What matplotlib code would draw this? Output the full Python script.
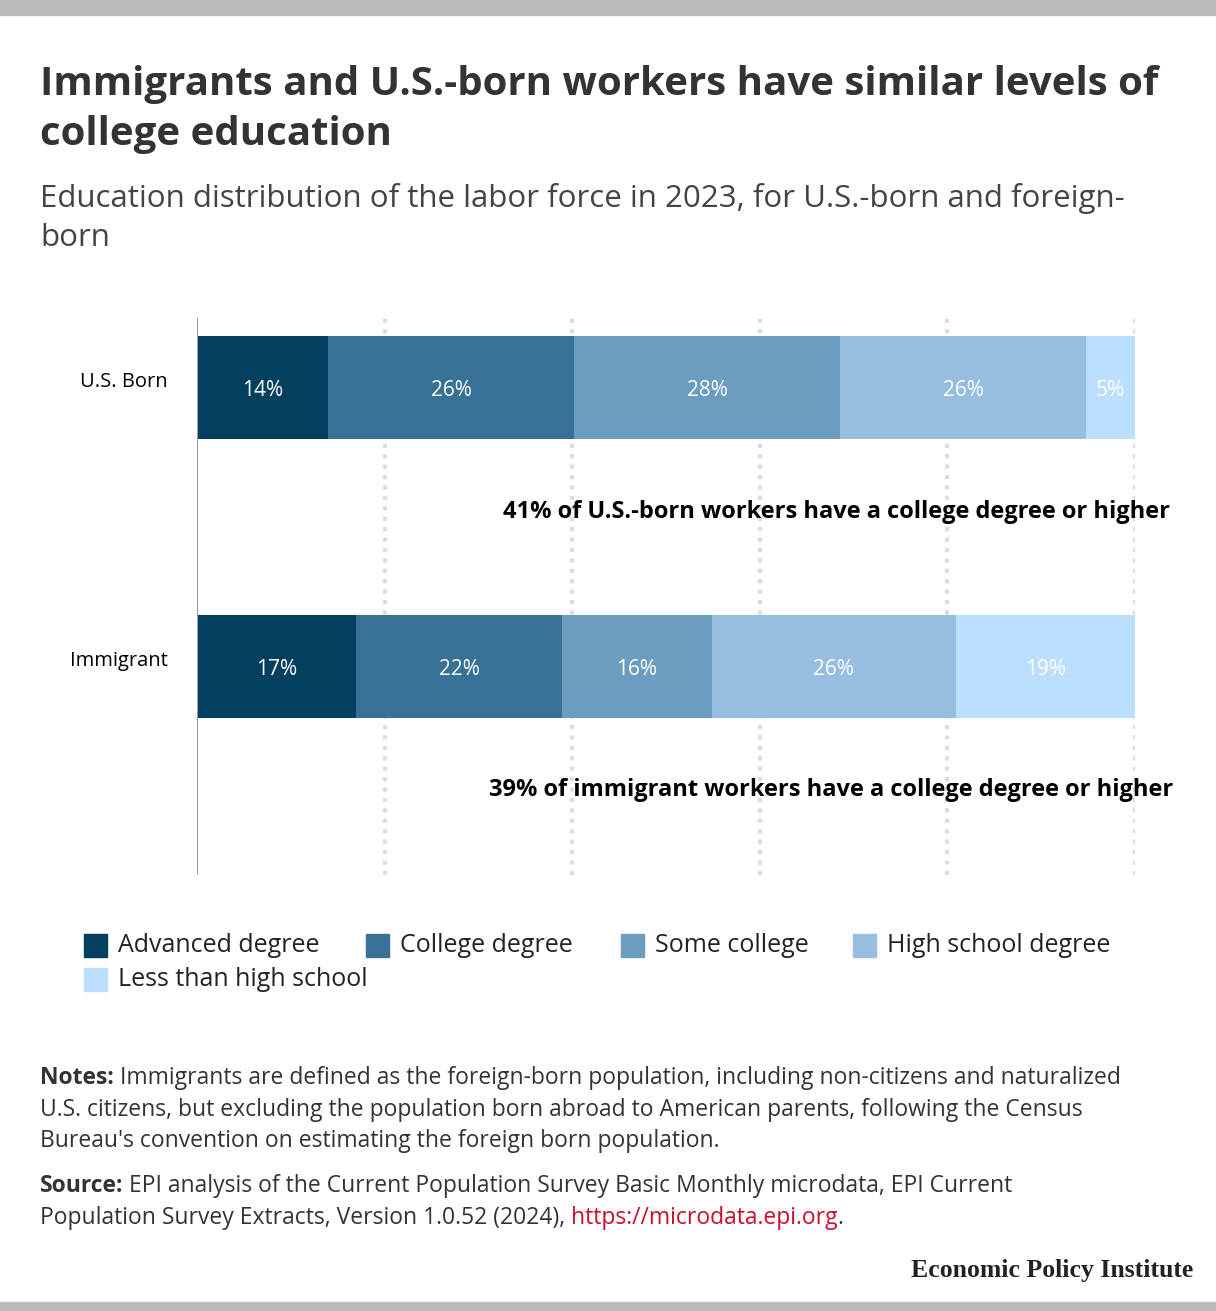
import matplotlib.pyplot as plt
from matplotlib.patches import Rectangle

groups = ["U.S. Born", "Immigrant"]
categories = ["Advanced degree", "College degree", "Some college",
              "High school degree", "Less than high school"]
us_born = [14.0, 26.2, 28.4, 26.2, 5.2]
immigrant = [17.0, 21.9, 16.0, 26.0, 19.1]
us_labels = ["14%", "26%", "28%", "26%", "5%"]
imm_labels = ["17%", "22%", "16%", "26%", "19%"]
colors = ["#03405f", "#377195", "#6b9dc0", "#97bde0", "#bddfff"]
notes_txt = ["41% of U.S.-born workers have a college degree or higher",
             "39% of immigrant workers have a college degree or higher"]

plt.rcParams['font.family'] = ['Open Sans', 'DejaVu Sans']
W, H = 1216, 1311
fig = plt.figure(figsize=(W / 100, H / 100), dpi=100)

def fx(px): return px / W
def fy(py): return 1 - py / H

fig.patches.append(Rectangle((0, fy(15)), 1, 15 / H, transform=fig.transFigure, color="#bbbbbb"))
fig.patches.append(Rectangle((0, 0), 1, 9 / H, transform=fig.transFigure, color="#bbbbbb"))

fig.text(fx(40), fy(85), "Immigrants and U.S.-born workers have similar levels of",
         fontsize=29, fontweight='bold', color="#333333", va='center')
fig.text(fx(40), fy(134), "college education",
         fontsize=29, fontweight='bold', color="#333333", va='center')
fig.text(fx(40), fy(198), "Education distribution of the labor force in 2023, for U.S.-born and foreign-",
         fontsize=22.5, color="#444444", va='center')
fig.text(fx(40), fy(238), "born", fontsize=22.5, color="#444444", va='center')

ax = fig.add_axes([fx(197), fy(875), fx(1135) - fx(197), (875 - 318) / H])
ax.set_xlim(0, 100)
ax.set_ylim(-0.5, 1.5)
ypos = [1.249, 0.247]
for row, vals, labs in [(0, us_born, us_labels), (1, immigrant, imm_labels)]:
    left = 0
    for v, c, l in zip(vals, colors, labs):
        ax.barh(ypos[row], v, left=left, height=0.37, color=c)
        ax.text(left + v / 2, ypos[row] - 0.01, l, ha='center', va='center',
                color='white', fontsize=15)
        left += v
for x in [20, 40, 60, 80, 100]:
    ax.axvline(x, color="#dddddd", lw=3, ls=(0, (1, 1.5)), zorder=0)
ax.axvline(0, color="#999999", lw=1.5)
for s in ax.spines.values():
    s.set_visible(False)
ax.set_xticks([])
ax.set_yticks([y + 0.03 for y in ypos])
ax.set_yticklabels(groups, fontsize=14.5)
ax.tick_params(axis='y', length=0, pad=21)

fig.text(fx(1170), fy(512), notes_txt[0], ha='right', va='center', fontsize=17, fontweight='bold')
fig.text(fx(1173), fy(790), notes_txt[1], ha='right', va='center', fontsize=17, fontweight='bold')

legend_pos = [(84, 945), (366, 945), (621, 945), (853, 945), (84, 979)]
for (px, py), c, name in zip(legend_pos, colors, categories):
    fig.patches.append(Rectangle((fx(px), fy(py + 12)), 23 / W, 23 / H,
                                 transform=fig.transFigure, color=c))
    fig.text(fx(px + 34), fy(py), name, fontsize=18, va='center', color="#222222")

renderer = fig.canvas.get_renderer()

def line(y, parts):
    x = fx(40)
    for txt, kw in parts:
        t = fig.text(x, fy(y), txt, fontsize=16.5, va='center', **kw)
        x = t.get_window_extent(renderer).x1 / W

base = dict(color="#333333")
bold = dict(color="#333333", fontweight='bold')
line(1078, [("Notes:", bold), (" Immigrants are defined as the foreign-born population, including non-citizens and naturalized", base)])
line(1110, [("U.S. citizens, but excluding the population born abroad to American parents, following the Census", base)])
line(1141, [("Bureau's convention on estimating the foreign born population.", base)])
line(1186, [("Source:", bold), (" EPI analysis of the Current Population Survey Basic Monthly microdata, EPI Current", base)])
line(1218, [("Population Survey Extracts, Version 1.0.52 (2024), ", base),
            ("https://microdata.epi.org", dict(color="#c8102e")), (".", base)])

fig.text(fx(1193), fy(1270), "Economic Policy Institute", ha='right', va='center',
         fontsize=18.5, fontweight='bold', family='Liberation Serif', color="#222222")

fig.savefig("out.png", dpi=100)
